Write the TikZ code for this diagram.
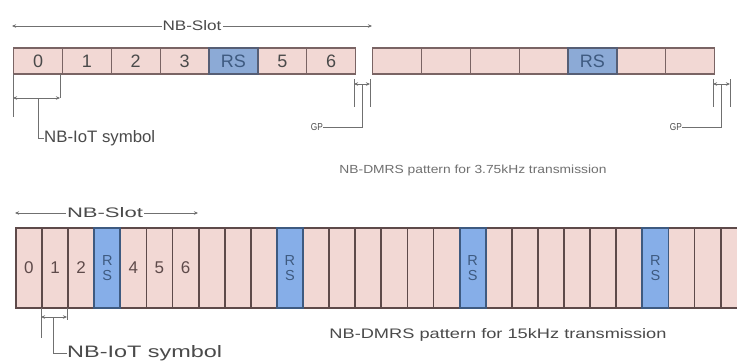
\documentclass[tikz,border=0pt]{standalone}
\usepackage{fontspec}
\setmainfont{Liberation Sans}
\usepackage{graphicx}
\usetikzlibrary{arrows.meta}
\definecolor{cellpink}{HTML}{F2D8D4}
\definecolor{cellblue}{HTML}{8CAAD6}
\definecolor{cellblueB}{HTML}{86AEE8}
\definecolor{edgeA}{HTML}{7A6464}
\definecolor{edgeB}{HTML}{5E4A4A}
\definecolor{edgeBlue}{HTML}{3E5A80}
\definecolor{txt}{HTML}{4A4A4A}
\definecolor{dim}{HTML}{707070}
\newcommand\fittext[3]{\resizebox{#1pt}{#2pt}{#3}}
\begin{document}
\begin{tikzpicture}[x=1pt,y=-1pt,
  topcell/.style={draw=edgeA, line width=1.2pt, fill=cellpink, minimum width=48.86pt,
    minimum height=26pt, inner sep=0pt, font=\fontsize{18}{18}\selectfont, text=txt, anchor=west},
  toprs/.style={topcell, fill=cellblue, draw=edgeBlue!60!edgeA, text=edgeBlue},
  botcell/.style={draw=edgeB, line width=1.8pt, fill=cellpink, minimum width=26.1pt,
    minimum height=80pt, inner sep=0pt, font=\fontsize{17}{17}\selectfont, text=edgeB, anchor=west},
  botrs/.style={botcell, fill=cellblueB, draw=edgeBlue, text=edgeBlue, align=center,
    font=\fontsize{14.5}{15.5}\selectfont},
  dimline/.style={draw=dim, line width=0.8pt},
  dimarrow/.style={dimline, {Stealth[length=4pt,width=3.5pt]}-{Stealth[length=4pt,width=3.5pt]}},
  lbl/.style={inner sep=0pt, text=txt},
  bglabel/.style={lbl, fill=white, inner xsep=1pt, inner ysep=1pt}]
\useasboundingbox (0,0) rectangle (737,360);
\fill[white] (0,0) rectangle (737,360);

% ---------- top: 3.75 kHz ----------
\foreach \i in {0,1,2,3,5,6}
  \node[topcell] (a\i) at ({13+48.86*\i},61) {\i};
\node[toprs] (a4) at ({13+48.86*4},61) {RS};
\foreach \i in {0,1,2,3,5,6}
  \node[topcell] (b\i) at ({372+48.86*\i},61) {};
\node[toprs] (b4) at ({372+48.86*4},61) {RS};

% NB-Slot (top)
\coordinate (ts1) at (12,26);
\coordinate (ts2) at (372,26);
\draw[dimarrow] (ts1) -- (ts2);
\node[bglabel] (tslot) at (192,26) {\fittext{59}{10}{NB-Slot}};

% NB-IoT symbol (top)
\coordinate (tv1a) at (13,74);  \coordinate (tv1b) at (13,117);
\coordinate (tv2a) at (60,74);  \coordinate (tv2b) at (60,98);
\coordinate (tsa) at (13,98);   \coordinate (tsb) at (60,98);
\coordinate (tsm) at (38,98);
\draw[dimline] (tv1a) -- (tv1b);
\draw[dimline] (tv2a) -- (tv2b);
\draw[dimarrow] (tsa) -- (tsb);
\node[lbl, anchor=west] (tsym) at (44,138) {\fittext{111}{12}{NB-IoT symbol}};
\draw[dimline] (tsm) |- (tsym.west);

% GP 1
\coordinate (g1a) at (354,79); \coordinate (g1b) at (354,107);
\coordinate (g1c) at (370,79); \coordinate (g1d) at (370,107);
\coordinate (g1l) at (354,84); \coordinate (g1r) at (370,84);
\coordinate (g1m) at (362,84);
\draw[dimline] (g1a) -- (g1b);
\draw[dimline] (g1c) -- (g1d);
\draw[dimarrow] (g1l) -- (g1r);
\node[lbl, anchor=east] (gp1) at (323,127) {\fittext{12}{7}{GP}};
\draw[dimline] (g1m) |- (gp1.east);

% GP 2
\coordinate (g2a) at (713,79); \coordinate (g2b) at (713,107);
\coordinate (g2c) at (730,79); \coordinate (g2d) at (730,107);
\coordinate (g2l) at (713,84); \coordinate (g2r) at (730,84);
\coordinate (g2m) at (721,84);
\draw[dimline] (g2a) -- (g2b);
\draw[dimline] (g2c) -- (g2d);
\draw[dimarrow] (g2l) -- (g2r);
\node[lbl, anchor=east] (gp2) at (682,127) {\fittext{12}{7}{GP}};
\draw[dimline] (g2m) |- (gp2.east);

\node[lbl, text=dim] (tcap) at (473,170) {\fittext{267}{8.5}{NB-DMRS pattern for 3.75kHz transmission}};

% ---------- bottom: 15 kHz ----------
\begin{scope}
\clip (0,0) rectangle (737,360);
\foreach \i in {0,1,2,4,5,6}
  \node[botcell] (c\i) at ({15+26.1*\i},268) {\i};
\foreach \i in {7,8,9,11,12,13,14,15,16,18,19,20,21,22,23,25,26,27}
  \node[botcell] (c\i) at ({15+26.1*\i},268) {};
\foreach \i in {3,10,17,24}
  \node[botrs] (c\i) at ({15+26.1*\i},268) {R\\S};
\end{scope}

% NB-Slot (bottom)
\coordinate (bs1) at (15,213);
\coordinate (bs2) at (198,213);
\draw[dimarrow] (bs1) -- (bs2);
\node[bglabel] (bslot) at (105,213) {\fittext{76}{10}{NB-Slot}};

% NB-IoT symbol (bottom)
\coordinate (bv1a) at (41,308);  \coordinate (bv1b) at (41,338);
\coordinate (bv2a) at (67,308);  \coordinate (bv2b) at (67,320);
\coordinate (bsa) at (41,317);   \coordinate (bsb) at (67,317);
\coordinate (bsm) at (53,317);
\draw[dimline] (bv1a) -- (bv1b);
\draw[dimline] (bv2a) -- (bv2b);
\draw[dimarrow] (bsa) -- (bsb);
\node[lbl, anchor=west] (bsym) at (67,353) {\fittext{155}{12}{NB-IoT symbol}};
\draw[dimline] (bsm) |- (bsym.west);

\node[lbl] (bcap) at (498,335) {\fittext{337}{10}{NB-DMRS pattern for 15kHz transmission}};
\end{tikzpicture}
\end{document}
